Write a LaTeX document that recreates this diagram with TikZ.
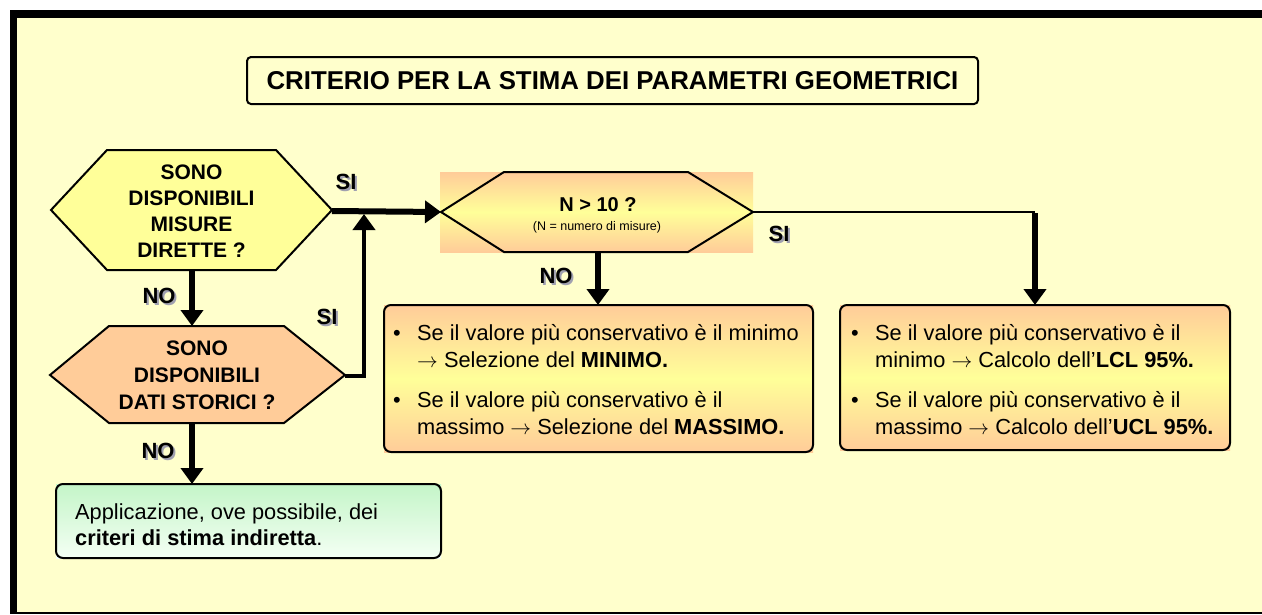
\documentclass[tikz,border=0pt]{standalone}
\usepackage{fontspec}
\setmainfont{Liberation Sans}
\usetikzlibrary{arrows.meta}
\definecolor{bg}{HTML}{FFFFCC}
\definecolor{hexy}{HTML}{FFFF99}
\definecolor{hexo}{HTML}{FFCC99}
\definecolor{orng}{HTML}{FFCC99}
\definecolor{yel}{HTML}{FFFF99}
\definecolor{grn}{HTML}{C4F5C8}
\definecolor{grnl}{HTML}{F4FFF4}
\definecolor{shdgray}{HTML}{A0A0B0}
\newcommand{\shd}[1]{\rlap{\hspace{2pt}\raisebox{-2pt}{\color{shdgray}#1}}#1}
\begin{document}
\begin{tikzpicture}[x=1pt,y=-1pt,
  hexline/.style={draw=black,line width=2pt,line join=miter},
  boxline/.style={draw=black,line width=2pt,rounded corners=7pt},
  hextext/.style={font=\fontsize{21}{26}\selectfont\bfseries,align=center,inner sep=0pt},
  btext/.style={font=\fontsize{21.8}{25}\selectfont,anchor=base west,inner sep=0pt},
  yn/.style={font=\fontsize{22}{25}\selectfont\bfseries,inner sep=0pt},
  thick arrow/.style={line width=6pt,-{Triangle[width=22pt,length=16pt]}},
  thin link/.style={line width=2pt}]
\useasboundingbox (0,0) rectangle (1262,614);
\fill[white] (0,0) rectangle (1262,614);
\fill[black] (10,10) rectangle (1262,614);
\fill[bg] (17,18) rectangle (1262,612);

% title
\draw[line width=2pt,fill=bg,rounded corners=4pt] (247,57) rectangle (978,104);
\node[font=\fontsize{25.8}{28}\selectfont\bfseries,inner sep=0pt] (title) at (612.5,81) {CRITERIO PER LA STIMA DEI PARAMETRI GEOMETRICI};

% hexagon 1
\draw[hexline,fill=hexy] (51,210) -- (107,150) -- (276,150) -- (332,210) -- (276,270) -- (107,270) -- cycle;
\node[hextext] (h1) at (191.5,211) {SONO\\DISPONIBILI\\MISURE\\DIRETTE ?};
\coordinate (h1e) at (332,211);
\coordinate (h1s) at (192,270);

% hexagon 2
\draw[hexline,fill=hexo] (50,375) -- (109,326) -- (284,326) -- (345,375) -- (284,423) -- (109,423) -- cycle;
\node[hextext,font=\fontsize{21}{27}\selectfont\bfseries] (h2) at (197,375) {SONO\\DISPONIBILI\\DATI STORICI ?};
\coordinate (h2n) at (192,326);
\coordinate (h2e) at (345,376);
\coordinate (h2s) at (192,423);

% N > 10 hexagon
\shade[top color=orng,bottom color=orng,middle color=yel] (440,172) rectangle (753,252);
\draw[hexline] (441,212) -- (504,172) -- (688,172) -- (753,212) -- (688,252) -- (504,252) -- cycle;
\node[font=\fontsize{20}{22}\selectfont\bfseries,inner sep=0pt] (n10) at (598,205) {N > 10 ?};
\node[font=\fontsize{12.5}{14}\selectfont,inner sep=0pt] (n10b) at (597,227) {(N = numero di misure)};
\coordinate (n10w) at (441,212);
\coordinate (n10e) at (753,212);
\coordinate (n10s) at (598,252);

% left result box
\shade[top color=orng,bottom color=orng,middle color=yel] (384,305) rectangle (813,452);
\draw[boxline] (384,305) rectangle (813,452);
\coordinate (lbn) at (598,305);
\node[btext] (lb1) at (393,340) {\textbullet};
\node[btext] (lb2) at (417,340) {Se il valore più conservativo è il minimo};
\node[btext] (lb3) at (417,367) {$\rightarrow$ Selezione del \textbf{MINIMO.}};
\node[btext] (lb4) at (393,407) {\textbullet};
\node[btext] (lb5) at (417,407) {Se il valore più conservativo è il};
\node[btext] (lb6) at (417,434) {massimo $\rightarrow$ Selezione del \textbf{MASSIMO.}};

% right result box
\shade[top color=orng,bottom color=orng,middle color=yel] (840,305) rectangle (1230,450);
\draw[boxline] (840,305) rectangle (1230,450);
\coordinate (rbn) at (1035,305);
\node[btext] (rb1) at (851,340) {\textbullet};
\node[btext] (rb2) at (875,340) {Se il valore più conservativo è il};
\node[btext] (rb3) at (875,367) {minimo $\rightarrow$ Calcolo dell’\textbf{LCL 95\%.}};
\node[btext] (rb4) at (851,407) {\textbullet};
\node[btext] (rb5) at (875,407) {Se il valore più conservativo è il};
\node[btext] (rb6) at (875,434) {massimo $\rightarrow$ Calcolo dell’\textbf{UCL 95\%.}};

% green box
\shade[top color=grn,bottom color=grnl] (56,484) rectangle (441,558);
\draw[boxline] (56,484) rectangle (441,558);
\coordinate (gbn) at (192,484);
\node[btext] (gb1) at (75,519) {Applicazione, ove possibile, dei};
\node[btext] (gb2) at (75,545) {\textbf{criteri di stima indiretta}.};

% connectors
\draw[thick arrow] (h1e) -- (n10w);
\coordinate (join) at (364,214);
\draw[line width=4.5pt,-{Triangle[width=22pt,length=16pt]}] (h2e) -| (join);
\draw[thick arrow] (h1s) -- (h2n);
\draw[thick arrow] (h2s) -- (gbn);
\draw[thick arrow] (n10s) -- (lbn);
\coordinate (corner) at (1035,212);
\draw[thin link] (n10e) -- (corner);
\draw[thick arrow] ([yshift=-1pt]corner) -- (rbn);

% labels
\node[yn] (si1) at (346,183) {\shd{SI}};
\node[yn] (no1) at (159,297) {\shd{NO}};
\node[yn] (si2) at (327,318) {\shd{SI}};
\node[yn] (no2) at (158,452) {\shd{NO}};
\node[yn] (no3) at (556,277) {\shd{NO}};
\node[yn] (si3) at (779,235) {\shd{SI}};
\end{tikzpicture}
\end{document}
